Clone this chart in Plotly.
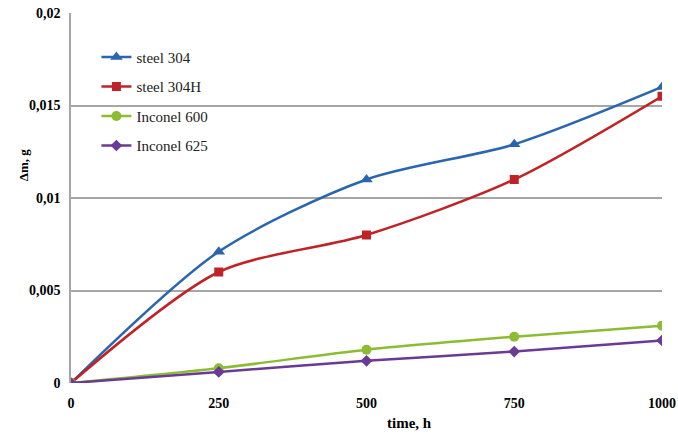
import plotly.graph_objects as go

time_h = [0, 250, 500, 750, 1000]
steel_304 = [0, 0.0071, 0.0110, 0.0129, 0.0160]
steel_304H = [0, 0.0060, 0.0080, 0.0110, 0.0155]
inconel_600 = [0, 0.0008, 0.0018, 0.0025, 0.0031]
inconel_625 = [0, 0.0006, 0.0012, 0.0017, 0.0023]

x_ticks = [0, 250, 500, 750, 1000]
x_ticktext = ["0", "250", "500", "750", "1000"]
y_ticks = [0, 0.005, 0.01, 0.015, 0.02]
y_ticktext = ["0", "0,005", "0,01", "0,015", "0,02"]

series = [
    ("steel 304", steel_304, "#2a66b0", "triangle-up", 11),
    ("steel 304H", steel_304H, "#c02226", "square", 9),
    ("Inconel 600", inconel_600, "#8cbb34", "circle", 10),
    ("Inconel 625", inconel_625, "#6a3a94", "diamond", 9),
]

fig = go.Figure()
for i, (name, ys, color, sym, sz) in enumerate(series):
    fig.add_trace(go.Scatter(
        x=time_h, y=ys, name=name, mode="lines+markers",
        line=dict(color=color, width=2.5, shape="spline", smoothing=0.8),
        marker=dict(symbol=sym, size=sz, color=color),
        legendgroup=f"g{i}",
    ))

serif = "Liberation Serif"

fig.add_annotation(x=0.572, y=-0.108, xref="paper", yref="paper", showarrow=False,
                   xanchor="center", yanchor="middle",
                   text="<b>time, h</b>", font=dict(family=serif, size=15, color="black"))
fig.add_annotation(x=-0.081, y=0.589, xref="paper", yref="paper", showarrow=False,
                   xanchor="center", yanchor="middle", textangle=-90,
                   text="<b>Δm, g</b>", font=dict(family=serif, size=13, color="black"))

fig.update_layout(
    width=678, height=434,
    margin=dict(l=71, r=16, t=13, b=51, autoexpand=False),
    plot_bgcolor="white", paper_bgcolor="white",
    font=dict(family=serif, color="black", size=13),
    showlegend=True,
    legend=dict(
        x=0.043, y=0.925, xanchor="left", yanchor="top",
        bgcolor="rgba(0,0,0,0)", font=dict(family=serif, size=15, color="#222"),
        traceorder="grouped", tracegroupgap=7, itemwidth=30,
    ),
    xaxis=dict(
        range=[0, 1000], tickvals=x_ticks, ticktext=x_ticktext,
        showgrid=False, zeroline=False, showline=False, automargin=False,
        tickfont=dict(family=serif, size=14, color="black", weight="bold"),
        ticks="", ticklen=0, ticklabelstandoff=10,
    ),
    yaxis=dict(
        range=[0, 0.02], tickvals=y_ticks, ticktext=y_ticktext,
        showgrid=True, gridcolor="#a6a6a6", gridwidth=1.5, automargin=False,
        zeroline=False, showline=True, linecolor="#a6a6a6", linewidth=1.5,
        tickfont=dict(family=serif, size=14, color="black", weight="bold"),
        ticks="", ticklen=0, ticklabelstandoff=6,
    ),
)

fig.write_html("out.html", config={"displayModeBar": False},
               post_script="document.body.style.margin='0';")
